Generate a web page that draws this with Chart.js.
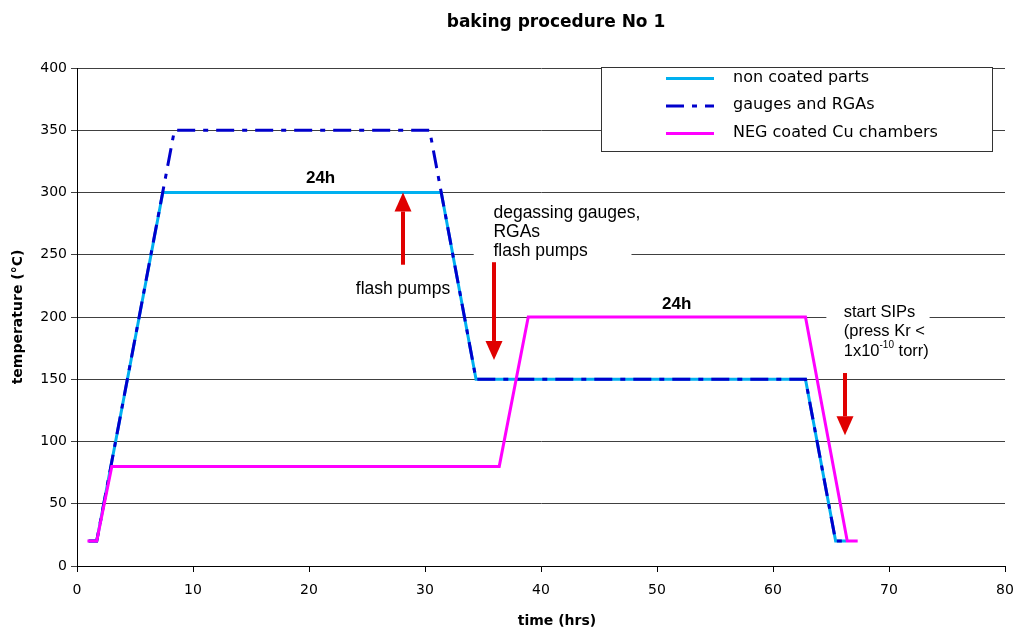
<!DOCTYPE html>
<html><head><meta charset="utf-8">
<script src="https://cdn.jsdelivr.net/npm/chart.js@4/dist/chart.umd.min.js"></script>
<style>html,body{margin:0;padding:0;background:#fff;overflow:hidden}canvas{display:block}</style>
</head><body>
<canvas id="c" width="1016" height="627"></canvas>
<script>
// ---- data ----
const chartTitle = 'baking procedure No 1';
const xTitle = 'time (hrs)';
const yTitle = 'temperature (°C)';
const seriesNames = ['non coated parts', 'gauges and RGAs', 'NEG coated Cu chambers'];
const nonCoatedHours = [1, 1.7, 7.4, 31.4, 34.4, 62.8, 65.4, 66.3];
const nonCoatedTemp  = [20, 20, 300, 300, 150, 150, 20, 20];
const gaugesHours    = [1, 1.7, 8.4, 30.4, 34.4, 62.8, 65.4, 66.3];
const gaugesTemp     = [20, 20, 350, 350, 150, 150, 20, 20];
const negHours       = [0.9, 1.7, 3.0, 36.4, 38.9, 62.8, 66.4, 67.3];
const negTemp        = [20, 20, 80, 80, 200, 200, 20, 20];
const xTickStep = 10, xMax = 80;
const yTickStep = 50, yMax = 400;

// annotations (data coordinates)
const arrowHours = [28.1, 35.95, 66.2];
const arrowFrom  = [242, 244, 155];
const arrowTo    = [300, 165.5, 105];
const boldLabels = ['24h', '24h'];
const boldLabelHours = [21.0, 51.7];
const boldLabelTemp  = [311, 210.5];

function pts(xs, ys){ return xs.map((x,i)=>({x:x, y:ys[i]})); }

const colors = ['#00b0f0', '#0000cc', '#ff00ff'];
const dashes = [[], [18, 8, 5, 8], []];
const font = 'DejaVu Sans';
const afont = '"Liberation Sans", Arial, sans-serif';

const annot = {
  id: 'annot',
  beforeDatasetsDraw(chart){
    const {ctx, scales:{x, y}} = chart;
    ctx.save();
    ctx.fillStyle = '#fff';
    const boxes = [[34.2, 47.8, 295, 244], [64.6, 73.5, 213, 162]];
    boxes.forEach(b=>{
      const x0 = x.getPixelForValue(b[0]), x1 = x.getPixelForValue(b[1]);
      const y0 = y.getPixelForValue(b[2]), y1 = y.getPixelForValue(b[3]);
      ctx.fillRect(x0, y0, x1-x0, y1-y0);
    });
    ctx.restore();
  },
  afterDatasetsDraw(chart){
    const {ctx, scales:{x, y}} = chart;
    const ca = chart.chartArea;
    ctx.save();
    // titles
    ctx.fillStyle = '#000';
    ctx.textBaseline = 'middle';
    ctx.textAlign = 'center';
    ctx.font = 'bold 17px "' + font + '"';
    ctx.fillText(chartTitle, (ca.left + ca.right)/2 + 15, 23);
    ctx.font = 'bold 14px "' + font + '"';
    ctx.fillText(xTitle, (ca.left + ca.right)/2 + 16, 621);

    // arrows
    ctx.fillStyle = '#e00000';
    arrowHours.forEach((h,i)=>{
      const px = Math.round(x.getPixelForValue(h));
      const y0 = y.getPixelForValue(arrowFrom[i]);
      const y1 = y.getPixelForValue(arrowTo[i]);
      const dir = y1 > y0 ? 1 : -1;
      const headLen = 19, headHalf = 8.5, shaftHalf = 2;
      const yh = y1 - dir*headLen;
      ctx.fillRect(px-shaftHalf, Math.min(y0, yh), shaftHalf*2, Math.abs(yh-y0));
      ctx.beginPath();
      ctx.moveTo(px-headHalf, yh);
      ctx.lineTo(px+headHalf, yh);
      ctx.lineTo(px, y1);
      ctx.closePath();
      ctx.fill();
    });
    // texts
    ctx.fillStyle = '#000';
    ctx.font = 'bold 17px ' + afont;
    ctx.textAlign = 'center';
    boldLabels.forEach((t,i)=>{
      ctx.fillText(t, x.getPixelForValue(boldLabelHours[i]), y.getPixelForValue(boldLabelTemp[i]));
    });
    ctx.font = '17.5px ' + afont;
    ctx.fillText('flash pumps', x.getPixelForValue(28.1), y.getPixelForValue(222.5));
    ctx.textAlign = 'left';
    const degX = x.getPixelForValue(35.9);
    ['degassing gauges,', 'RGAs', 'flash pumps'].forEach((t,i)=>{
      ctx.fillText(t, degX, y.getPixelForValue(284.3) + 1 + i*19);
    });
    ctx.font = '16.5px ' + afont;
    const sipX = x.getPixelForValue(66.1);
    const sipY = y.getPixelForValue(204);
    ctx.fillText('start SIPs', sipX, sipY);
    ctx.fillText('(press Kr <', sipX, sipY + 19.5);
    let cx = sipX;
    ctx.fillText('1x10', cx, sipY + 39); cx += ctx.measureText('1x10').width;
    ctx.font = '10px ' + afont;
    ctx.fillText('-10', cx, sipY + 33); cx += ctx.measureText('-10').width;
    ctx.font = '16.5px ' + afont;
    ctx.fillText(' torr)', cx, sipY + 39);

    // legend box
    const lx0 = ca.right - 404, lx1 = ca.right - 13, ly0 = ca.top - 1, ly1 = ca.top + 83;
    ctx.fillStyle = '#fff';
    ctx.fillRect(lx0, ly0, lx1-lx0, ly1-ly0);
    ctx.strokeStyle = '#333';
    ctx.lineWidth = 1;
    ctx.strokeRect(lx0+0.5, ly0+0.5, lx1-lx0, ly1-ly0);
    ctx.font = '16px "' + font + '"';
    ctx.textAlign = 'left';
    seriesNames.forEach((n,i)=>{
      const yy = ca.top + 10.5 + i*27.5;
      ctx.strokeStyle = colors[i];
      ctx.lineWidth = 3;
      ctx.setLineDash(dashes[i]);
      ctx.beginPath();
      ctx.moveTo(lx0+65, yy); ctx.lineTo(lx0+113, yy);
      ctx.stroke();
      ctx.setLineDash([]);
      ctx.fillStyle = '#000';
      ctx.fillText(n, lx0+132, yy - 1);
    });
    ctx.restore();
  }
};

new Chart(document.getElementById('c'), {
  type: 'line',
  data: {
    datasets: [
      {label: seriesNames[0], data: pts(nonCoatedHours, nonCoatedTemp), borderColor: colors[0], borderWidth: 3, order: 3},
      {label: seriesNames[1], data: pts(gaugesHours, gaugesTemp), borderColor: colors[1], borderWidth: 3, borderDash: dashes[1], order: 2},
      {label: seriesNames[2], data: pts(negHours, negTemp), borderColor: colors[2], borderWidth: 3, order: 1}
    ]
  },
  options: {
    responsive: false,
    animation: false,
    parsing: false,
    elements: {point: {radius: 0}, line: {tension: 0, borderCapStyle: 'butt', borderJoinStyle: 'miter'}},
    layout: {padding: {left: 0, right: 11, top: 68, bottom: 0}},
    plugins: {
      legend: {display: false},
      tooltip: {enabled: false},
      title: {display: false}
    },
    scales: {
      x: {
        type: 'linear', min: 0, max: xMax,
        ticks: {stepSize: xTickStep, color: '#000', font: {family: font, size: 14}, padding: 10},
        grid: {drawOnChartArea: false, drawTicks: true, tickLength: 6, color: '#000'},
        border: {color: '#000', width: 1},
        title: {display: false},
        afterFit(s){ s.height = 61; s.paddingLeft = 0; s.paddingRight = 0; }
      },
      y: {
        min: 0, max: yMax,
        ticks: {stepSize: yTickStep, color: '#000', font: {family: font, size: 14}, padding: 4},
        grid: {color: '#404040', tickLength: 6, drawTicks: true},
        border: {color: '#000', width: 1},
        title: {display: true, text: yTitle, color: '#000', font: {family: font, size: 14, weight: 'bold'}, padding: {top: 10, bottom: 0}},
        afterFit(s){ s.width = 77; s.paddingTop = 0; s.paddingBottom = 0; }
      }
    }
  },
  plugins: [annot]
});
</script>
</body></html>
